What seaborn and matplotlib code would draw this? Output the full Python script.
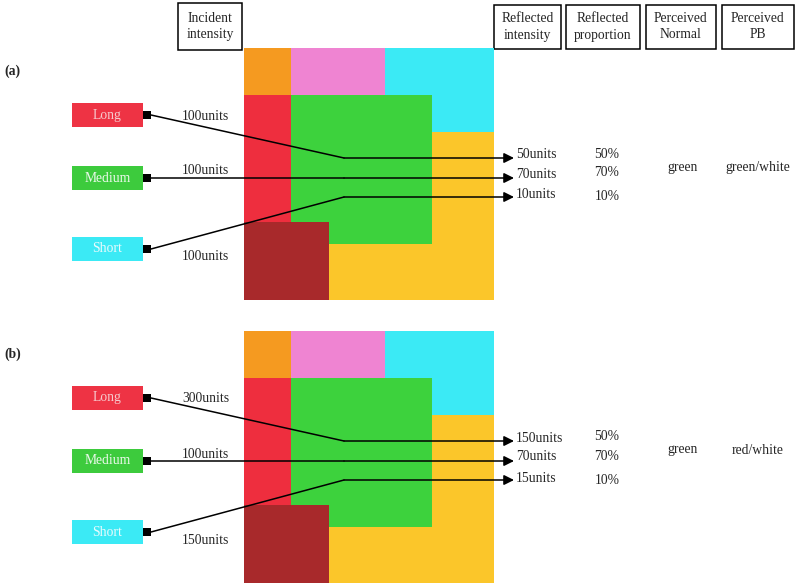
import matplotlib
matplotlib.use("Agg")
import matplotlib.pyplot as plt
from matplotlib.patches import Rectangle, FancyArrowPatch
import seaborn as sns

# ---- data ---------------------------------------------------------------
panels = ["(a)", "(b)"]
wavebands = ["Long", "Medium", "Short"]
incident_units = [[100, 100, 100], [300, 100, 150]]
reflected_units = [[50, 70, 10], [150, 70, 15]]
reflected_pct = [50, 70, 10]
perceived_normal = ["green", "green"]
perceived_pb = ["green/white", "red/white"]
headers = ["Incident\nintensity", "Reflected\nintensity", "Reflected\nproportion",
           "Perceived\nNormal", "Perceived\nPB"]

# ---- style --------------------------------------------------------------
sns.set_theme(style="white")
plt.rcParams["font.family"] = ["Liberation Serif", "DejaVu Serif"]

band_colors = ["#ee3344", "#3dcb3d", "#3beaf5"]
band_text = ["#f6c9cc", "#e8f8e8", "#e8fbfd"]
# Mondrian patches: (x, y, w, h, colour) relative to the panel's top-left
mondrian = [
    (0, 0, 250, 252, "#fbc62a"),
    (0, 0, 47, 47, "#f59a20"),
    (47, 0, 94, 47, "#ef84d2"),
    (141, 0, 109, 84, "#3beaf5"),
    (0, 47, 47, 127, "#ee2e3e"),
    (47, 47, 141, 149, "#3dd23d"),
    (0, 174, 85, 78, "#a8292b"),
]

fig = plt.figure(figsize=(8, 5.85), dpi=100)
ax = fig.add_axes([0, 0, 1, 1])
ax.set_xlim(0, 800)
ax.set_ylim(585, 0)
ax.axis("off")

fs = 9.8

# header boxes
header_boxes = [(178, 3, 64, 47), (494, 5, 67, 44), (566, 5, 74, 44),
                (646, 5, 70, 44), (722, 5, 72, 44)]
for (x, y, w, h), txt in zip(header_boxes, headers):
    ax.add_patch(Rectangle((x, y), w, h, fill=False, ec="black", lw=1.1))
    ax.text(x + w / 2, y + h / 2, txt, ha="center", va="center",
            fontsize=fs, linespacing=1.3)

for p, label in enumerate(panels):
    dy = p * 283
    ax.text(4, 71 + dy, label, fontsize=fs, fontweight="bold", va="center")

    # Mondrian
    for (mx, my, mw, mh, c) in mondrian:
        ax.add_patch(Rectangle((244 + mx, 48 + dy + my), mw, mh, color=c, lw=0))

    box_y = [115, 178, 249]
    out_y = [158, 178, 197]
    for i, band in enumerate(wavebands):
        yb = box_y[i] + dy
        yo = out_y[i] + dy
        ax.add_patch(Rectangle((72, yb - 12), 71, 24, color=band_colors[i], lw=0))
        ax.text(107.5, yb, band, ha="center", va="center", fontsize=fs,
                color=band_text[i])
        ax.add_patch(Rectangle((143, yb - 4), 8, 8, color="black", lw=0))
        # incident amount
        lab_y = [116, 171, 257][i] + dy
        ax.text(182, lab_y, f"{incident_units[p][i]}units", va="center", fontsize=fs)
        # ray
        ax.plot([151, 344], [yb, yo], color="black", lw=1.1)
        ax.add_patch(FancyArrowPatch((344, yo), (514, yo),
                                     arrowstyle="-|>,head_length=0.6,head_width=0.3",
                                     mutation_scale=10, lw=1.1, color="black",
                                     shrinkA=0, shrinkB=0))
        # reflected amount and proportion
        ax.text(516, [155, 174, 195][i] + dy, f"{reflected_units[p][i]}units",
                va="center", fontsize=fs)
        ax.text(607, [154, 173, 197][i] + dy, f"{reflected_pct[i]}%",
                ha="center", va="center", fontsize=fs)

    ax.text(683, 167 + dy, perceived_normal[p], ha="center", va="center", fontsize=fs)
    ax.text(758, 167 + dy, perceived_pb[p], ha="center", va="center", fontsize=fs)

fig.savefig("out.png", dpi=100)
